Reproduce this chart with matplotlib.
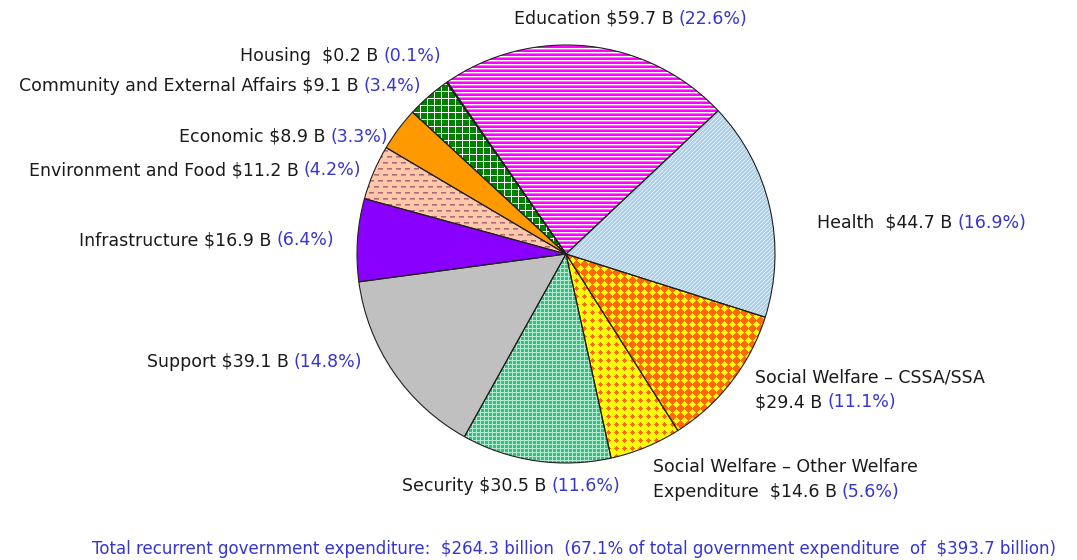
import matplotlib
matplotlib.use('Agg')
import matplotlib.pyplot as plt
import numpy as np

plt.rcParams['font.family'] = ['DejaVu Sans']
plt.rcParams['text.parse_math'] = False

# data (HK$ billion, share of total)
categories = ['Education', 'Health', 'Social Welfare \u2013 CSSA/SSA',
              'Social Welfare \u2013 Other Welfare Expenditure', 'Security',
              'Support', 'Infrastructure', 'Environment and Food', 'Economic',
              'Community and External Affairs', 'Housing']
values = [59.7, 44.7, 29.4, 14.6, 30.5, 39.1, 16.9, 11.2, 8.9, 9.1, 0.2]
pcts = ['22.6', '16.9', '11.1', '5.6', '11.6', '14.8', '6.4', '4.2', '3.3', '3.4', '0.1']
total = 264.3
total_pct = 67.1
total_all = 393.7

face = ['#ff00ff', '#a9d2f2', '#ff6a00', '#ffff00', '#2ec27c', '#c0c0c0',
        '#8a00ff', '#ffc8a8', '#ff9900', '#008000', '#000080']
BLUE = '#3535d0'
W, H = 1077, 560

fig = plt.figure(figsize=(W / 100, H / 100), dpi=100)
ax = fig.add_axes([0, 0, 1, 1])

cx, cy, r = 566, H - 254, 209
kw = dict(startangle=124.6, counterclock=False, center=(cx, cy), radius=r)
wedges, _ = ax.pie(values, colors=face, wedgeprops=dict(linewidth=0), **kw)

# fill patterns, drawn pixel by pixel and clipped to each wedge
py, px = np.mgrid[0:H, 0:W]


def rgb(c):
    return np.array(matplotlib.colors.to_rgb(c))


def pattern(base, ink, alpha):
    img = np.empty((H, W, 3))
    img[:] = rgb(base)
    img += np.asarray(alpha, float)[..., None] * (rgb(ink) - rgb(base))
    return img


def diamonds(s, d, offset):
    u = (px + offset) % s - s / 2
    v = (py + offset) % s - s / 2
    return (np.abs(u) + np.abs(v)) < d


edu_a = np.where(py % 4 == 0, 1.0, np.where(py % 4 == 1, 0.45, 0.0))
env_row = py % 6
env_dash = ((px + (py // 6) % 2 * 4) % 9) < 5
env_a = np.where(env_dash & (env_row == 0), 1.0, np.where(env_dash & (env_row == 1), 0.6, 0.0))

patterns = {
    0: pattern(face[0], 'white', edu_a),
    1: pattern(face[1], 'white', 0.7 * ((px + py) % 4 == 0)),
    2: pattern('#ff6a00', '#ffff00', diamonds(8, 3.4, 0)),
    3: pattern('#ffff00', '#ff6a00', diamonds(8, 3.0, 4)),
    4: pattern(face[4], 'white', 0.65 * ((px % 4 == 0) | (py % 4 == 0))),
    7: pattern(face[7], '#b06878', env_a),
    9: pattern(face[9], 'white', (px % 7 == 0) | (py % 7 == 0)),
}
for i, img in patterns.items():
    im = ax.imshow(img, extent=(0, W, 0, H), origin='upper', interpolation='nearest', zorder=1.5)
    im.set_clip_path(wedges[i])

ax.pie(values, wedgeprops=dict(fill=False, linewidth=0.8, edgecolor='#202020', zorder=2), **kw)

ax.set_xlim(0, W)
ax.set_ylim(0, H)
ax.set_aspect('auto')
ax.axis('off')

FS = 12.5
INK = '#1a1a1a'


def label_right(x, y, black, blue):
    t = ax.text(x, H - y, blue, color=BLUE, fontsize=FS, ha='right', va='center')
    ax.annotate(black, xy=(0, 0), xycoords=t, xytext=(-3.5, 0), textcoords='offset points',
                ha='right', va='bottom', fontsize=FS, color=INK)


def label_left(x, y, black, blue):
    t = ax.text(x, H - y, black, color=INK, fontsize=FS, ha='left', va='center')
    ax.annotate(blue, xy=(1, 0), xycoords=t, xytext=(3.5, 0), textcoords='offset points',
                ha='left', va='bottom', fontsize=FS, color=BLUE)


def money(i):
    return f'${values[i]} B'


def pc(i):
    return f'({pcts[i]}%)'


label_left(514, 19, f'{categories[0]} {money(0)}', pc(0))
label_left(817, 223, f'{categories[1]}  {money(1)}', pc(1))
# two-line labels
ax.text(755, H - 378, categories[2], fontsize=FS, color=INK, ha='left', va='center')
label_left(755, 402, money(2), pc(2))
ax.text(653, H - 467, 'Social Welfare \u2013 Other Welfare', fontsize=FS, color=INK,
        ha='left', va='center')
label_left(653, 492, f'Expenditure  {money(3)}', pc(3))
label_right(620, 486, f'{categories[4]} {money(4)}', pc(4))
label_right(362, 362, f'{categories[5]} {money(5)}', pc(5))
label_right(334, 240, f'{categories[6]} {money(6)}', pc(6))
label_right(361, 170, f'{categories[7]} {money(7)}', pc(7))
label_right(388, 137, f'{categories[8]} {money(8)}', pc(8))
label_right(421, 86, f'{categories[9]} {money(9)}', pc(9))
label_right(441, 56, f'{categories[10]}  {money(10)}', pc(10))

ax.text(574, H - 549,
        f'Total recurrent government expenditure:  ${total} billion  ({total_pct}% of total '
        f'government expenditure  of  ${total_all} billion)',
        color=BLUE, fontsize=12, ha='center', va='center')

fig.savefig('out.png', dpi=100)
